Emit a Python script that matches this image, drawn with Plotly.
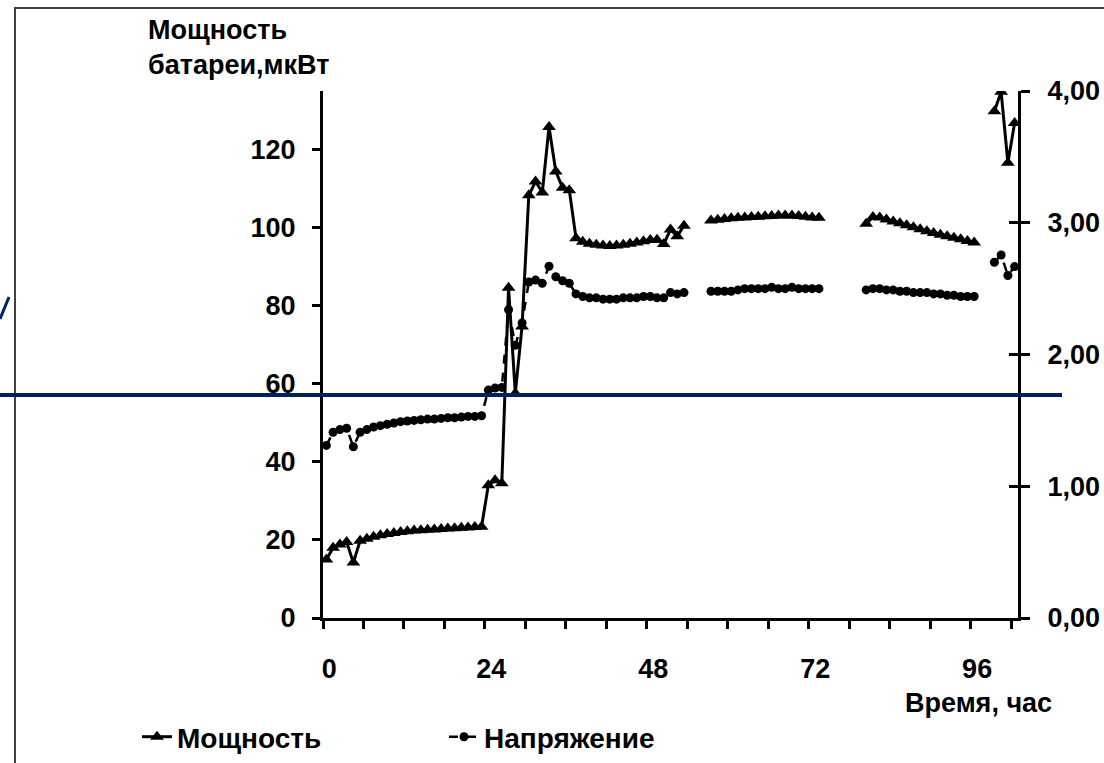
import plotly.graph_objects as go

# Hourly readings (category index = hour); None marks hours with no reading
hours = list(range(103))

power_uw = [
    15.0, 18.0, 18.8, 19.5, 14.2, 19.8, 20.3, 20.8, 21.2, 21.5,
    21.8, 22.0, 22.2, 22.4, 22.5, 22.6, 22.7, 22.8, 22.9, 23.0,
    23.1, 23.2, 23.3, 23.4, 34.0, 35.3, 34.5, 84.6, 57.6, 74.7,
    108.3, 111.8, 109.0, 125.8, 114.4, 110.2, 109.6, 97.3, 96.4, 95.9,
    95.6, 95.4, 95.3, 95.4, 95.6, 95.9, 96.2, 96.5, 96.8, 96.9,
    95.8, 99.5, 97.8, 100.5, None, None, None, 101.8, 102.0, 102.2,
    102.4, 102.5, 102.6, 102.7, 102.8, 102.9, 103.0, 103.1, 103.1, 103.1,
    103.0, 102.8, 102.6, 102.5, None, None, None, None, None, None,
    101.0, 102.7, 102.6, 102.1, 101.6, 101.1, 100.6, 100.1, 99.6, 99.1,
    98.6, 98.2, 97.8, 97.4, 97.0, 96.6, 96.2, None, None, 129.8,
    134.8, 116.6, 126.8,
]

voltage_v = [
    1.31, 1.41, 1.43, 1.44, 1.30, 1.41, 1.43, 1.45, 1.46, 1.47,
    1.48, 1.49, 1.495, 1.50, 1.505, 1.51, 1.51, 1.515, 1.52, 1.52,
    1.525, 1.53, 1.53, 1.535, 1.73, 1.745, 1.75, 2.34, 2.07, 2.24,
    2.55, 2.565, 2.54, 2.67, 2.59, 2.56, 2.54, 2.46, 2.44, 2.43,
    2.43, 2.42, 2.42, 2.42, 2.43, 2.43, 2.43, 2.44, 2.44, 2.43,
    2.43, 2.47, 2.46, 2.47, None, None, None, 2.48, 2.48, 2.48,
    2.48, 2.49, 2.50, 2.50, 2.50, 2.50, 2.51, 2.50, 2.50, 2.51,
    2.50, 2.50, 2.50, 2.50, None, None, None, None, None, None,
    2.49, 2.50, 2.50, 2.49, 2.49, 2.48, 2.48, 2.47, 2.47, 2.47,
    2.46, 2.46, 2.45, 2.45, 2.44, 2.44, 2.44, None, None, 2.70,
    2.755, 2.60, 2.667,
]

x_label_hours = [0, 24, 48, 72, 96]
x_tick_bounds = [h - 0.5 for h in range(0, 103, 6)]
left_ticks = [0, 20, 40, 60, 80, 100, 120]
right_ticks = [0, 1, 2, 3, 4]
right_tick_text = ["0,00", "1,00", "2,00", "3,00", "4,00"]

FONT = "Liberation Sans, Arial, sans-serif"
NAVY = "#002060"

W, H = 1104, 763
L, R, T, B = 323, 86, 91, 145
PW, PH = W - L - R, H - T - B


def px(xp):
    return (xp - L) / PW


def py(yp):
    return (H - B - yp) / PH


fig = go.Figure()

fig.add_trace(go.Scatter(
    x=hours, y=power_uw, name="Мощность",
    mode="lines+markers",
    line=dict(color="black", width=3),
    marker=dict(symbol="triangle-up", size=12, color="black"),
    xaxis="x", yaxis="y",
))

fig.add_trace(go.Scatter(
    x=hours, y=voltage_v, name="Напряжение",
    mode="lines+markers",
    line=dict(color="black", width=2.5, dash="dash"),
    marker=dict(symbol="circle", size=9, color="black"),
    xaxis="x", yaxis="y2",
))

tick_font = dict(family=FONT, size=27, color="black", weight="bold")

fig.update_layout(
    width=W, height=H,
    margin=dict(l=L, r=R, t=T, b=B, autoexpand=False),
    paper_bgcolor="white", plot_bgcolor="white",
    font=dict(family=FONT, color="black", weight="bold"),
    showlegend=True,
    legend=dict(
        orientation="h", x=px(137), y=py(737), xanchor="left", yanchor="middle",
        font=dict(family=FONT, size=28, color="black", weight="bold"),
        entrywidth=262, entrywidthmode="pixels",
        bgcolor="rgba(0,0,0,0)",
    ),
    xaxis=dict(
        range=[-0.5, 102.5], showgrid=False, zeroline=False,
        showline=True, linecolor="black", linewidth=3,
        tickmode="array", tickvals=x_tick_bounds, showticklabels=False,
        ticks="outside", ticklen=8, tickwidth=2.5, tickcolor="black",
    ),
    xaxis2=dict(
        overlaying="x", matches="x", anchor="y", side="bottom",
        showgrid=False, zeroline=False, showline=False, ticks="",
        tickmode="array", tickvals=x_label_hours,
        ticktext=[str(h) for h in x_label_hours],
        tickfont=tick_font, ticklabelstandoff=32, ticklabelshift=3,
    ),
    yaxis=dict(
        range=[0, 135], showgrid=False, zeroline=False,
        showline=True, linecolor="black", linewidth=3,
        tickmode="array", tickvals=left_ticks,
        ticks="outside", ticklen=8, tickwidth=3, tickcolor="black",
        tickfont=tick_font, ticklabelstandoff=11,
    ),
    yaxis2=dict(
        range=[0, 4], overlaying="y", side="right", anchor="x",
        showgrid=False, zeroline=False,
        showline=True, linecolor="black", linewidth=3,
        tickmode="array", tickvals=right_ticks, ticktext=right_tick_text,
        ticks="outside", ticklen=9, tickwidth=3, tickcolor="black",
        tickfont=tick_font, ticklabelstandoff=12,
    ),
    yaxis3=dict(
        range=[0, 4], overlaying="y", side="right", anchor="x",
        showgrid=False, zeroline=False, showline=False,
        tickmode="array", tickvals=right_ticks, showticklabels=False,
        ticks="inside", ticklen=9, tickwidth=3, tickcolor="black",
    ),
)

# invisible trace so the inner tick set of the right axis is rendered
fig.add_trace(go.Scatter(x=[None], y=[None], xaxis="x2", yaxis="y3",
                         showlegend=False, hoverinfo="skip"))

fig.add_annotation(
    x=px(146), y=py(13), xref="paper", yref="paper",
    xanchor="left", yanchor="top", align="left", showarrow=False,
    text="Мощность<br>батареи,мкВт",
    font=dict(family=FONT, size=27, color="black", weight="bold"),
)
fig.add_annotation(
    x=px(978), y=py(703), xref="paper", yref="paper",
    xanchor="center", yanchor="middle", showarrow=False,
    text="Время, час",
    font=dict(family=FONT, size=27, color="black", weight="bold"),
)

# slide frame and overlay strokes
fig.add_shape(type="rect", xref="paper", yref="paper",
              x0=px(15), y0=py(8), x1=px(1120), y1=py(790),
              line=dict(color="#404040", width=2), layer="below")
fig.add_shape(type="line", xref="paper", yref="paper",
              x0=px(0), y0=py(395), x1=px(1062), y1=py(395),
              line=dict(color=NAVY, width=4), layer="above")
fig.add_shape(type="line", xref="paper", yref="paper",
              x0=px(0), y0=py(319), x1=px(9), y1=py(297),
              line=dict(color=NAVY, width=3), layer="above")

fig.write_html("out.html")
